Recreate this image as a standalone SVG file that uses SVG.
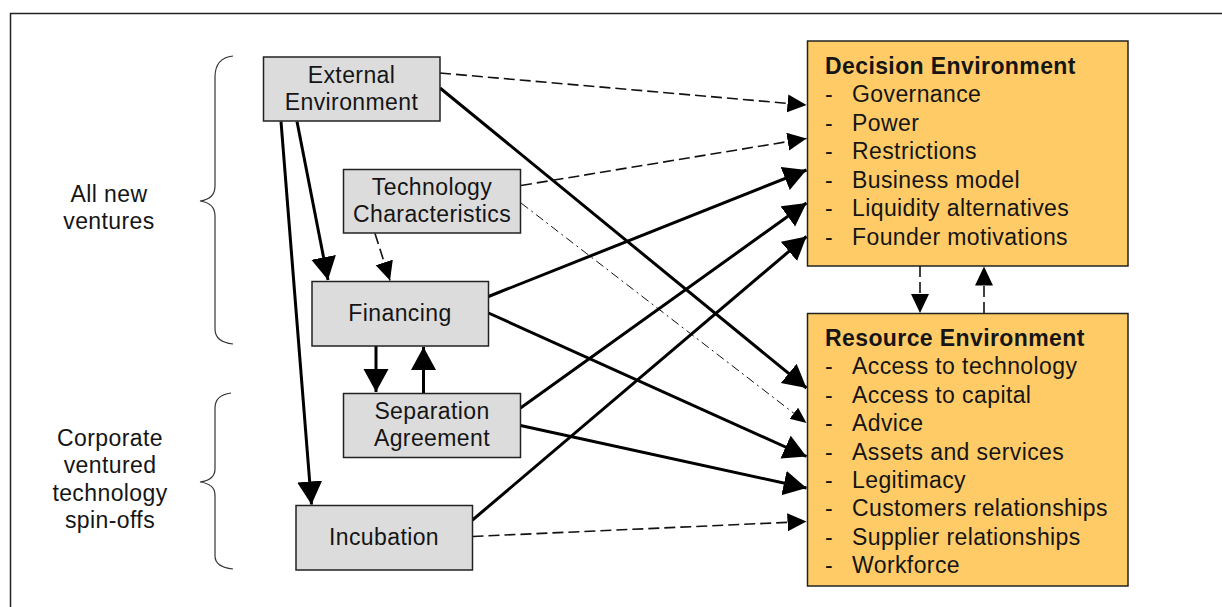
<svg xmlns="http://www.w3.org/2000/svg" width="1222" height="607" viewBox="0 0 1222 607">
<style>
  text { font-family: "Liberation Sans", Arial, sans-serif; font-size: 23px; letter-spacing: 0.4px; fill: #151515; }
  .c { text-anchor: middle; }
  .b { font-weight: bold; }
  .grey { fill: #dcdcdc; stroke: #222; stroke-width: 1.5; }
  .orange { fill: #ffcb66; stroke: #222; stroke-width: 1.5; }
  .thick { stroke: #000; stroke-width: 3; fill: none; marker-end: url(#ah); }
  .dash { stroke: #111; stroke-width: 1.6; fill: none; stroke-dasharray: 11 5; marker-end: url(#ahd); }
  .thin { stroke: #111; stroke-width: 1; fill: none; stroke-dasharray: 9 4 2 4; marker-end: url(#aht); }
  .brace { stroke: #333; stroke-width: 1.2; fill: none; }
</style>
<defs>
  <marker id="ah" markerUnits="userSpaceOnUse" markerWidth="24" markerHeight="26" refX="23" refY="12.5" orient="auto">
    <path d="M0,0 L23,12.5 L0,25 z" fill="#000"/>
  </marker>
  <marker id="ahd" markerUnits="userSpaceOnUse" markerWidth="20" markerHeight="19" refX="19" refY="9" orient="auto">
    <path d="M0,0 L19,9 L0,18 z" fill="#000"/>
  </marker>
  <marker id="aht" markerUnits="userSpaceOnUse" markerWidth="17" markerHeight="15" refX="16" refY="7" orient="auto">
    <path d="M0,0 L16,7 L0,14 z" fill="#000"/>
  </marker>
</defs>
<rect width="1222" height="607" fill="#fff"/>
<path d="M10.5,607 L10.5,13.5 L1222,13.5" stroke="#222" stroke-width="1.5" fill="none"/>

<g id="braces">
  <path class="brace" d="M233,56 Q215,58 215,77 L215,186 Q215,199 200,201 Q215,203 215,216 L215,329 Q215,342 233,344"/>
  <path class="brace" d="M231,393 Q215,395 215,408 L215,469 Q215,480 200,482 Q215,484 215,495 L215,556 Q215,567 233,569"/>
</g>
<g id="group-labels">
  <text class="c" x="109" y="202">All new</text>
  <text class="c" x="109" y="229">ventures</text>
  <text class="c" x="110" y="446">Corporate</text>
  <text class="c" x="110" y="473">ventured</text>
  <text class="c" x="110" y="501">technology</text>
  <text class="c" x="110" y="528">spin-offs</text>
</g>

<g id="connectors">
  <path class="dash" d="M440,73 L806.5,105"/>
  <path class="thick" d="M440,88 L806.5,388"/>
  <path class="dash" d="M521,185.5 L806.5,138.5"/>
  <path class="thin" d="M521,203 L806.5,423"/>
  <path class="thick" d="M488.5,296.5 L806.5,170"/>
  <path class="thick" d="M488.5,313 L806.5,456.5"/>
  <path class="thick" d="M520.5,408 L806.5,203"/>
  <path class="thick" d="M520.5,425.5 L806.5,488"/>
  <path class="thick" d="M472.5,520 L806.5,236.5"/>
  <path class="dash" d="M472.5,536.5 L806.5,521.5"/>
  <path class="thick" d="M297,121.5 L328,280"/>
  <path class="thick" d="M281,121.5 L311.5,504.5"/>
  <path class="dash" d="M375,233.5 L390,280.5"/>
  <path class="thick" d="M376,346 L376,392"/>
  <path class="thick" d="M423.5,393 L423.5,347"/>
  <path class="dash" d="M920,266 L920,313"/>
  <path class="dash" d="M984,313 L984,266.5"/>
</g>

<g id="external-environment">
  <rect class="grey" x="263.5" y="57" width="176.5" height="64"/>
  <text class="c" x="351.5" y="83">External</text>
  <text class="c" x="351.5" y="110">Environment</text>
</g>
<g id="technology-characteristics">
  <rect class="grey" x="343.5" y="169.5" width="177" height="63.5"/>
  <text class="c" x="432" y="195">Technology</text>
  <text class="c" x="432" y="222">Characteristics</text>
</g>
<g id="financing">
  <rect class="grey" x="312" y="281.5" width="176.5" height="64.5"/>
  <text class="c" x="400" y="321">Financing</text>
</g>
<g id="separation-agreement">
  <rect class="grey" x="343.5" y="393.5" width="177" height="64"/>
  <text class="c" x="432" y="418.5">Separation</text>
  <text class="c" x="432" y="446">Agreement</text>
</g>
<g id="incubation">
  <rect class="grey" x="296" y="505.5" width="176.5" height="64.5"/>
  <text class="c" x="384" y="545">Incubation</text>
</g>

<g id="decision-environment">
  <rect class="orange" x="807.5" y="41" width="320.5" height="225"/>
  <text class="b" x="825" y="73.5">Decision Environment</text>
  <text x="825" y="102">-</text><text x="852" y="102">Governance</text>
  <text x="825" y="130.5">-</text><text x="852" y="130.5">Power</text>
  <text x="825" y="159">-</text><text x="852" y="159">Restrictions</text>
  <text x="825" y="187.5">-</text><text x="852" y="187.5">Business model</text>
  <text x="825" y="216">-</text><text x="852" y="216">Liquidity alternatives</text>
  <text x="825" y="244.5">-</text><text x="852" y="244.5">Founder motivations</text>
</g>
<g id="resource-environment">
  <rect class="orange" x="807.5" y="313.5" width="320.5" height="272.5"/>
  <text class="b" x="825" y="346">Resource Environment</text>
  <text x="825" y="374.4">-</text><text x="852" y="374.4">Access to technology</text>
  <text x="825" y="402.8">-</text><text x="852" y="402.8">Access to capital</text>
  <text x="825" y="431.2">-</text><text x="852" y="431.2">Advice</text>
  <text x="825" y="459.6">-</text><text x="852" y="459.6">Assets and services</text>
  <text x="825" y="488">-</text><text x="852" y="488">Legitimacy</text>
  <text x="825" y="516.4">-</text><text x="852" y="516.4">Customers relationships</text>
  <text x="825" y="544.8">-</text><text x="852" y="544.8">Supplier relationships</text>
  <text x="825" y="573.2">-</text><text x="852" y="573.2">Workforce</text>
</g>
</svg>
